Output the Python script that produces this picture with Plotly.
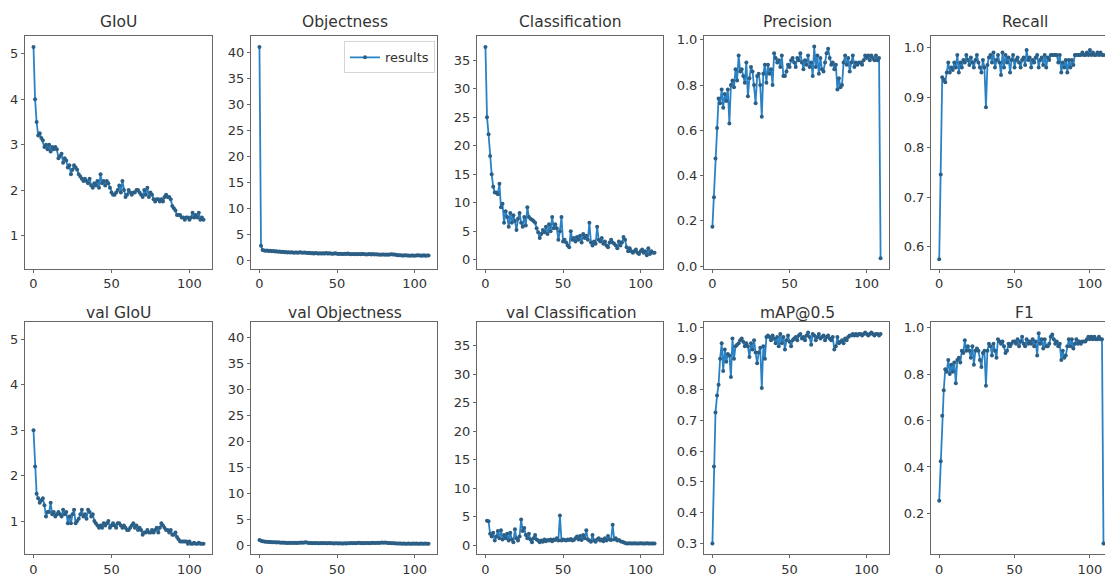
import plotly.graph_objects as go

epochs = list(range(110))

giou = [5.15, 4.00, 3.50, 3.20, 3.25, 3.15, 3.10, 2.95, 3.00, 2.90,
        3.00, 2.85, 2.95, 2.90, 2.95, 2.90, 2.70, 2.75, 2.80, 2.60,
        2.70, 2.65, 2.50, 2.55, 2.35, 2.45, 2.55, 2.50, 2.45, 2.35,
        2.30, 2.25, 2.20, 2.25, 2.20, 2.15, 2.25, 2.10, 2.05, 2.15,
        2.10, 2.20, 2.05, 2.35, 2.15, 2.20, 2.10, 2.20, 2.15, 2.05,
        1.95, 1.90, 1.90, 1.95, 2.00, 2.10, 1.95, 2.20, 2.00, 1.85,
        1.90, 2.00, 1.95, 1.90, 1.95, 1.95, 2.00, 2.00, 1.95, 1.90,
        1.85, 2.00, 1.90, 2.05, 1.85, 1.95, 1.90, 1.80, 1.75, 1.80,
        1.80, 1.75, 1.80, 1.75, 1.85, 1.90, 1.85, 1.85, 1.80, 1.65,
        1.60, 1.55, 1.45, 1.45, 1.45, 1.40, 1.40, 1.35, 1.40, 1.40,
        1.35, 1.40, 1.50, 1.40, 1.45, 1.40, 1.50, 1.35, 1.40, 1.35]

objectness = [41.0, 2.8, 2.0, 1.9, 1.85, 1.9, 1.8, 1.85, 1.75, 1.8,
              1.7, 1.75, 1.65, 1.7, 1.6, 1.65, 1.55, 1.6, 1.5, 1.55,
              1.5, 1.55, 1.45, 1.5, 1.5, 1.45, 1.55, 1.5, 1.45, 1.5,
              1.45, 1.4, 1.45, 1.35, 1.4, 1.3, 1.4, 1.35, 1.3, 1.35,
              1.3, 1.35, 1.3, 1.4, 1.3, 1.35, 1.3, 1.25, 1.3, 1.35,
              1.25, 1.2, 1.25, 1.2, 1.2, 1.25, 1.2, 1.3, 1.2, 1.15,
              1.2, 1.15, 1.2, 1.15, 1.2, 1.15, 1.2, 1.2, 1.15, 1.1,
              1.15, 1.2, 1.1, 1.2, 1.1, 1.15, 1.1, 1.1, 1.05, 1.1,
              1.1, 1.05, 1.1, 1.05, 1.1, 1.15, 1.1, 1.1, 1.05, 1.0,
              1.0, 1.0, 0.95, 0.95, 1.0, 0.95, 0.95, 0.9, 0.95, 0.95,
              0.9, 0.95, 1.0, 0.95, 0.95, 0.9, 1.0, 0.9, 0.95, 0.95]

classification = [37.3, 25.0, 22.0, 18.2, 15.0, 12.8, 11.8, 11.8, 11.5, 13.3,
                  9.2, 9.8, 6.5, 8.5, 7.5, 5.8, 8.2, 6.5, 7.8, 6.8,
                  5.2, 7.2, 8.2, 6.5, 5.8, 7.5, 6.0, 9.2, 7.5, 7.2,
                  7.0, 6.8, 6.5, 5.5, 4.8, 3.8, 4.5, 5.2, 4.8, 5.8,
                  4.5, 6.2, 5.0, 7.5, 5.5, 6.2, 5.5, 3.5, 5.0, 7.5,
                  3.2, 3.5, 3.0, 2.5, 2.2, 5.0, 3.5, 3.8, 3.2, 4.0,
                  3.5, 4.2, 3.0, 4.5, 3.8, 4.2, 3.5, 6.5, 3.0, 2.5,
                  3.2, 2.8, 5.8, 3.5, 3.2, 3.8, 2.8, 3.2, 2.5, 2.2,
                  3.0, 3.5, 3.0, 2.8, 2.5, 2.0, 3.2, 2.5, 3.0, 4.0,
                  3.5, 2.2, 1.5, 2.0, 1.5, 1.2, 1.5, 1.8, 1.2, 1.0,
                  1.5, 1.8, 1.2, 1.5, 0.8, 2.0, 1.0, 1.5, 1.2, 1.2]

precision = [0.174, 0.304, 0.475, 0.61, 0.74, 0.72, 0.78, 0.70, 0.76, 0.73,
             0.78, 0.63, 0.80, 0.82, 0.79, 0.87, 0.82, 0.93, 0.86, 0.87,
             0.84, 0.81, 0.90, 0.75, 0.83, 0.88, 0.86, 0.80, 0.72, 0.84,
             0.85, 0.80, 0.66, 0.85, 0.89, 0.81, 0.89, 0.85, 0.87, 0.80,
             0.94, 0.92, 0.90, 0.91, 0.88, 0.93, 0.84, 0.84, 0.86, 0.89,
             0.88, 0.91, 0.92, 0.90, 0.88, 0.92, 0.91, 0.94, 0.90, 0.87,
             0.91, 0.89, 0.93, 0.88, 0.90, 0.84, 0.97, 0.88, 0.93, 0.85,
             0.92, 0.87, 0.86, 0.90, 0.94, 0.96, 0.92, 0.89, 0.90, 0.87,
             0.89, 0.78, 0.83, 0.79, 0.80, 0.90, 0.93, 0.89, 0.92, 0.86,
             0.90, 0.93, 0.88, 0.90, 0.89, 0.90, 0.90, 0.89, 0.91, 0.93,
             0.92, 0.93, 0.91, 0.93, 0.92, 0.91, 0.93, 0.91, 0.92, 0.035]

recall = [0.575, 0.745, 0.94, 0.935, 0.93, 0.95, 0.97, 0.95, 0.96, 0.955,
          0.97, 0.96, 0.985, 0.95, 0.97, 0.96, 0.975, 0.97, 0.985, 0.975,
          0.965, 0.98, 0.97, 0.96, 0.975, 0.985, 0.97, 0.96, 0.95, 0.975,
          0.96, 0.88, 0.965, 0.98, 0.985, 0.97, 0.99, 0.96, 0.975, 0.985,
          0.97, 0.945, 0.99, 0.96, 0.985, 0.97, 0.98, 0.95, 0.975, 0.985,
          0.96, 0.975, 0.98, 0.97, 0.96, 0.975, 0.98, 0.965, 0.995, 0.975,
          0.98, 0.96, 0.975, 0.97, 0.98, 0.985, 0.96, 0.975, 0.98, 0.965,
          0.985, 0.96, 0.98, 0.975, 0.985, 0.985, 0.985, 0.985, 0.985, 0.97,
          0.985, 0.95, 0.97, 0.96, 0.975, 0.95, 0.975, 0.96, 0.975, 0.965,
          0.985, 0.985, 0.985, 0.985, 0.985, 0.99, 0.985, 0.985, 0.99, 0.985,
          0.995, 0.985, 0.99, 0.985, 0.985, 0.99, 0.985, 0.99, 0.985, 0.985]

val_giou = [3.00, 2.20, 1.60, 1.50, 1.40, 1.45, 1.50, 1.35, 1.10, 1.20,
            1.20, 1.40, 1.15, 1.20, 1.10, 1.15, 1.20, 1.15, 1.10, 1.25,
            1.15, 1.20, 0.95, 1.10, 0.95, 1.15, 1.25, 0.95, 1.00, 1.05,
            1.15, 1.25, 1.10, 1.15, 1.05, 1.25, 1.20, 1.10, 1.15, 1.00,
            0.95, 0.90, 0.85, 0.90, 0.85, 0.95, 0.90, 0.95, 1.00, 0.85,
            0.90, 0.95, 0.90, 0.85, 0.95, 0.95, 0.90, 0.85, 0.90, 0.85,
            0.80, 0.80, 0.85, 0.90, 0.95, 0.85, 0.90, 0.80, 0.85, 0.80,
            0.70, 0.75, 0.75, 0.80, 0.75, 0.75, 0.80, 0.75, 0.80, 0.85,
            0.75, 0.85, 0.95, 0.90, 0.85, 0.80, 0.80, 0.75, 0.80, 0.70,
            0.70, 0.75, 0.65, 0.60, 0.55, 0.55, 0.55, 0.55, 0.55, 0.50,
            0.55, 0.50, 0.50, 0.52, 0.50, 0.50, 0.52, 0.50, 0.50, 0.50]

val_objectness = [1.1, 0.95, 0.9, 0.85, 0.8, 0.8, 0.75, 0.75, 0.7, 0.7,
                  0.7, 0.65, 0.7, 0.65, 0.6, 0.65, 0.6, 0.6, 0.55, 0.6,
                  0.55, 0.6, 0.55, 0.6, 0.55, 0.6, 0.6, 0.65, 0.6, 0.65,
                  0.7, 0.6, 0.55, 0.55, 0.5, 0.55, 0.5, 0.55, 0.5, 0.5,
                  0.55, 0.5, 0.55, 0.5, 0.5, 0.55, 0.5, 0.5, 0.45, 0.5,
                  0.5, 0.45, 0.5, 0.45, 0.45, 0.5, 0.45, 0.5, 0.5, 0.55,
                  0.5, 0.55, 0.5, 0.55, 0.6, 0.55, 0.5, 0.55, 0.5, 0.55,
                  0.55, 0.5, 0.55, 0.6, 0.55, 0.55, 0.6, 0.55, 0.6, 0.65,
                  0.6, 0.65, 0.6, 0.55, 0.55, 0.5, 0.5, 0.5, 0.45, 0.45,
                  0.45, 0.45, 0.4, 0.45, 0.4, 0.4, 0.45, 0.4, 0.4, 0.45,
                  0.4, 0.45, 0.4, 0.4, 0.45, 0.4, 0.4, 0.45, 0.4, 0.4]

val_classification = [None, 4.3, 4.2, 2.0, 1.5, 2.2, 0.8, 1.5, 2.5, 1.2,
                      2.6, 1.0, 1.8, 1.2, 2.0, 0.8, 2.2, 1.0, 0.5, 2.8,
                      1.2, 0.8, 1.5, 4.5, 2.5, 3.0, 1.8, 1.2, 2.0, 1.0,
                      0.5, 1.2, 1.8, 1.0, 0.8, 0.5, 0.8, 0.6, 1.0, 0.7,
                      0.9, 0.8, 1.0, 0.7, 1.0, 0.9, 1.2, 0.8, 5.2, 0.8,
                      1.0, 0.9, 0.8, 1.0, 0.9, 1.1, 0.8, 0.9, 1.2, 1.5,
                      1.0, 1.6, 0.9, 1.8, 1.2, 2.6, 1.0, 0.8, 0.6, 1.8,
                      0.8, 0.6, 1.0, 1.2, 0.8, 1.0, 0.7, 1.2, 0.8, 1.6,
                      1.0, 0.9, 3.6, 1.0, 1.2, 0.8, 0.9, 0.7, 0.6, 0.5,
                      0.4, 0.3, 0.3, 0.35, 0.3, 0.3, 0.35, 0.3, 0.3, 0.3,
                      0.35, 0.3, 0.3, 0.3, 0.35, 0.3, 0.3, 0.3, 0.3, 0.3]

map50 = [0.30, 0.55, 0.725, 0.78, 0.815, 0.90, 0.95, 0.86, 0.93, 0.89,
         0.915, 0.91, 0.84, 0.965, 0.90, 0.94, 0.945, 0.95, 0.96, 0.965,
         0.955, 0.94, 0.95, 0.94, 0.905, 0.95, 0.93, 0.96, 0.92, 0.885,
         0.92, 0.935, 0.805, 0.94, 0.90, 0.97, 0.975, 0.97, 0.96, 0.975,
         0.965, 0.95, 0.97, 0.94, 0.98, 0.95, 0.97, 0.93, 0.96, 0.975,
         0.955, 0.94, 0.96, 0.965, 0.97, 0.96, 0.975, 0.98, 0.965, 0.97,
         0.96, 0.975, 0.985, 0.97, 0.945, 0.98, 0.975, 0.96, 0.97, 0.98,
         0.965, 0.97, 0.975, 0.96, 0.97, 0.975, 0.965, 0.96, 0.97, 0.93,
         0.94, 0.97, 0.95, 0.955, 0.96, 0.95, 0.965, 0.96, 0.97, 0.975,
         0.975, 0.98, 0.975, 0.98, 0.975, 0.98, 0.98, 0.975, 0.98, 0.985,
         0.98, 0.975, 0.98, 0.985, 0.98, 0.975, 0.98, 0.98, 0.975, 0.98]

f1 = [0.255, 0.425, 0.62, 0.73, 0.82, 0.81, 0.86, 0.80, 0.84, 0.81,
      0.85, 0.76, 0.86, 0.87, 0.85, 0.90, 0.89, 0.945, 0.90, 0.92,
      0.90, 0.87, 0.92, 0.84, 0.90, 0.91, 0.90, 0.86, 0.83, 0.89,
      0.90, 0.75, 0.90, 0.93, 0.92, 0.88, 0.93, 0.90, 0.87, 0.95,
      0.94, 0.93, 0.94, 0.92, 0.89, 0.90, 0.93, 0.92, 0.93, 0.94,
      0.94, 0.93, 0.95, 0.92, 0.94, 0.96, 0.93, 0.92, 0.95, 0.93,
      0.94, 0.93, 0.95, 0.92, 0.94, 0.88, 0.975, 0.93, 0.95, 0.91,
      0.95, 0.92, 0.92, 0.93, 0.96, 0.97, 0.95, 0.93, 0.94, 0.92,
      0.93, 0.86, 0.90, 0.87, 0.88, 0.92, 0.95, 0.92, 0.95, 0.91,
      0.93, 0.95, 0.93, 0.94, 0.93, 0.94, 0.94, 0.94, 0.95, 0.96,
      0.95, 0.96, 0.95, 0.96, 0.95, 0.95, 0.96, 0.95, 0.95, 0.07]

titles = ["GIoU", "Objectness", "Classification", "Precision", "Recall",
          "val GIoU", "val Objectness", "val Classification", "mAP@0.5", "F1"]
series = [giou, objectness, classification, precision, recall,
          val_giou, val_objectness, val_classification, map50, f1]

# styling / layout (pixels)
W, H = 1105, 578
col_px = [(25, 212), (251, 437), (477, 663), (704, 889), (931, 1105)]
row_px = [(33, 269), (323, 559)]
title_py = [18, 314]
yranges = [[0.2675, 5.3825], [-1.63, 43.03], [-1.6, 39.15], [-0.012, 1.0145], [0.556, 1.022],
           [0.2675, 5.3825], [-1.63, 43.03], [-1.6, 39.15], [0.265, 1.019], [0.024, 1.024]]
yticks = [[1, 2, 3, 4, 5], list(range(0, 45, 5)), list(range(0, 40, 5)),
          [0.0, 0.2, 0.4, 0.6, 0.8, 1.0], [0.6, 0.7, 0.8, 0.9, 1.0],
          [1, 2, 3, 4, 5], list(range(0, 45, 5)), list(range(0, 40, 5)),
          [0.3, 0.4, 0.5, 0.6, 0.7, 0.8, 0.9, 1.0], [0.2, 0.4, 0.6, 0.8, 1.0]]
yfmt = ["d", "d", "d", ".1f", ".1f", "d", "d", "d", ".1f", ".1f"]

LINE = "#2a82c6"
MARK = "#2c5f86"
AX = "#666666"
TXT = "#333333"
FONT = "DejaVu Sans"

fig = go.Figure()
layout = {}
annotations = []
for i in range(10):
    r, c = divmod(i, 5)
    k = "" if i == 0 else str(i + 1)
    fig.add_trace(go.Scatter(
        x=epochs, y=series[i], mode="lines+markers", name="results",
        line=dict(color=LINE, width=1.8),
        marker=dict(size=4, color=MARK),
        showlegend=(i == 1), xaxis="x" + k, yaxis="y" + k,
        connectgaps=False,
    ))
    xdom = [col_px[c][0] / W, col_px[c][1] / W]
    ydom = [1 - row_px[r][1] / H, 1 - row_px[r][0] / H]
    xr = [-5.45, 114.45] if c < 4 else [-5.45, 110.0]
    layout["xaxis" + k] = dict(
        domain=xdom, anchor="y" + k, range=xr, tickvals=[0, 50, 100],
        showgrid=False, zeroline=False, showline=True, linecolor=AX, linewidth=1,
        mirror=True, ticks="outside", ticklen=3, tickcolor=AX,
        tickfont=dict(size=13, color=TXT, family=FONT),
    )
    layout["yaxis" + k] = dict(
        domain=ydom, anchor="x" + k, range=yranges[i], tickvals=yticks[i],
        tickformat=yfmt[i],
        showgrid=False, zeroline=False, showline=True, linecolor=AX, linewidth=1,
        mirror=(c < 4), ticks="outside", ticklen=3, tickcolor=AX,
        tickfont=dict(size=13, color=TXT, family=FONT),
    )
    annotations.append(dict(
        text=titles[i], xref="paper", yref="paper",
        x=(col_px[c][0] + (col_px[c][0] + 187)) / 2 / W,
        y=1 - title_py[r] / H, xanchor="center", yanchor="middle",
        showarrow=False, font=dict(size=15.5, color=TXT, family=FONT),
    ))

fig.update_layout(
    **layout,
    annotations=annotations,
    width=W, height=H,
    margin=dict(l=0, r=0, t=0, b=0),
    paper_bgcolor="white", plot_bgcolor="white",
    font=dict(family=FONT, color=TXT),
    showlegend=True,
    legend=dict(x=435 / W, y=1 - 38 / H, xanchor="right", yanchor="top",
                bgcolor="rgba(255,255,255,0.85)", bordercolor="#d5d5d5", borderwidth=1,
                font=dict(size=13, color=TXT, family=FONT)),
)

fig.write_html("out.html",
               config={"displayModeBar": False},
               post_script="document.body.style.margin='0px';document.body.style.overflow='hidden';")
